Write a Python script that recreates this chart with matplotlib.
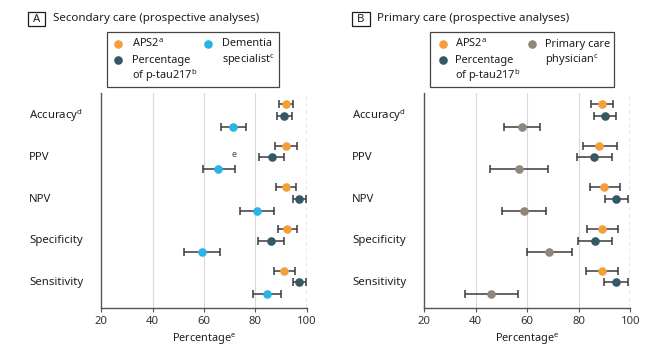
import matplotlib
matplotlib.use('Agg')
import matplotlib.pyplot as plt
from matplotlib.patches import Rectangle
from matplotlib.lines import Line2D
from matplotlib.transforms import blended_transform_factory
import numpy as np

FONT = 'Noto Sans'
plt.rcParams['font.family'] = [FONT, 'DejaVu Sans']
plt.rcParams['mathtext.fontset'] = 'custom'
plt.rcParams['mathtext.rm'] = FONT
plt.rcParams['mathtext.it'] = FONT
plt.rcParams['mathtext.default'] = 'regular'

# ---------------- data ----------------
metric_labels = ['Accuracy$^{d}$', 'PPV', 'NPV', 'Specificity', 'Sensitivity']
ticks = [20, 40, 60, 80, 100]

# Panel A: secondary care
a_aps2 = [91.8, 91.7, 91.8, 92.3, 91.1]
a_aps2_lo = [89.0, 87.7, 88.0, 88.6, 87.1]
a_aps2_hi = [94.7, 96.0, 95.7, 96.1, 95.3]
a_ptau = [91.2, 86.3, 96.9, 85.9, 97.0]
a_ptau_lo = [88.2, 81.5, 94.4, 80.8, 94.4]
a_ptau_hi = [94.2, 91.2, 99.6, 90.9, 99.6]
a_clin = [71.4, 65.6, 80.7, 59.2, 84.6]
a_clin_lo = [66.7, 59.5, 74.0, 52.2, 79.2]
a_clin_hi = [76.2, 72.0, 87.3, 66.3, 90.0]

# Panel B: primary care
b_aps2 = [89.0, 88.0, 89.9, 89.0, 88.9]
b_aps2_lo = [84.7, 81.5, 84.3, 83.0, 82.7]
b_aps2_hi = [93.3, 94.7, 95.9, 95.1, 95.3]
b_ptau = [90.2, 85.9, 94.4, 86.1, 94.3]
b_ptau_lo = [86.0, 79.2, 90.2, 79.5, 89.9]
b_ptau_hi = [94.3, 92.8, 99.0, 93.0, 99.0]
b_clin = [57.9, 56.6, 58.6, 68.4, 46.0]
b_clin_lo = [51.1, 45.4, 50.0, 59.7, 35.8]
b_clin_hi = [64.8, 68.0, 67.4, 77.2, 56.5]

C_APS2 = '#F4A03A'
C_PTAU = '#355866'
C_SPEC = '#2BB3E6'
C_PCP = '#8F877C'
C_ERR = '#3a3a3a'
C_TXT = '#1e1e1e'

W, H = 669, 362
fig = plt.figure(figsize=(W / 100, H / 100), dpi=100)


def fx(px):
    return px / W


def fy(py):
    return 1 - py / H


FS = 8.2
FS_LEG = 7.9
FS_TITLE = 8.3
OFF = 0.283


def panel(ax_left, label_x, letter_box, title_x, letter, title, series, legend_box, entries):
    ax = fig.add_axes([fx(ax_left), fy(308), 206 / W, (308 - 93) / H])
    ax.set_xlim(20, 100)
    ax.set_ylim(4.617, -0.545)
    for g in [40, 60, 80]:
        ax.axvline(g, color='#d9d9d9', lw=0.8, zorder=0)
    ax.axvline(100, color='#8a8a8a', lw=1.0, ls=(0, (3, 2)), zorder=0)
    for spine in ['top', 'right']:
        ax.spines[spine].set_visible(False)
    for spine in ['left', 'bottom']:
        ax.spines[spine].set_color('#555555')
        ax.spines[spine].set_linewidth(1.0)
    ax.set_yticks([])
    ax.set_xticks(ticks)
    ax.set_xticklabels([str(t) for t in ticks], fontsize=FS, color='#333333')
    ax.tick_params(axis='x', direction='out', length=3, width=0.8,
                   color='#555555', pad=2.5)
    y = np.arange(len(metric_labels))
    for (vals, lo, hi, col, dy) in series:
        vals = np.array(vals)
        err = [vals - np.array(lo), np.array(hi) - vals]
        ax.errorbar(vals, y + dy, xerr=err, fmt='o', color=col, ms=6.2,
                    mec='none', ecolor=C_ERR, elinewidth=1.1, capsize=2.6,
                    capthick=1.1, clip_on=False, zorder=3)
    tr = blended_transform_factory(fig.transFigure, ax.transData)
    for i, lab in enumerate(metric_labels):
        fig.text(fx(label_x), i, lab, transform=tr, ha='left', va='center',
                 fontsize=FS, color=C_TXT)
    fig.text(fx(ax_left + 103), fy(339.5), 'Percentage$^{e}$', ha='center',
             va='center', fontsize=FS_LEG, color=C_TXT)
    bx0, bx1 = letter_box
    fig.patches.append(Rectangle((fx(bx0), fy(26)), (bx1 - bx0) / W, 14 / H,
                                 transform=fig.transFigure, fill=False,
                                 ec=C_TXT, lw=0.9))
    fig.text(fx((bx0 + bx1) / 2), fy(19), letter, ha='center', va='center',
             fontsize=FS, weight='bold', color=C_TXT)
    fig.text(fx(title_x), fy(19), title, ha='left', va='center',
             fontsize=FS_TITLE, color=C_TXT)
    lx0, lx1 = legend_box
    fig.patches.append(Rectangle((fx(lx0), fy(87)), (lx1 - lx0) / W, 55 / H,
                                 transform=fig.transFigure, fc='white',
                                 ec='#444444', lw=0.9))
    for (mx, tx, yy, col, txt) in entries:
        if mx is not None:
            fig.lines.append(Line2D([fx(mx)], [fy(yy)], transform=fig.transFigure,
                                    marker='o', ms=6.2, color=col, mec='none'))
        fig.text(fx(tx), fy(yy), txt, ha='left', va='center',
                 fontsize=FS_LEG, color=C_TXT)
    return ax


axA = panel(101, 29, (28, 45), 53, 'A', 'Secondary care (prospective analyses)',
            [(a_aps2, a_aps2_lo, a_aps2_hi, C_APS2, -OFF),
             (a_ptau, a_ptau_lo, a_ptau_hi, C_PTAU, 0),
             (a_clin, a_clin_lo, a_clin_hi, C_SPEC, OFF)],
            (107, 279),
            [(118, 132, 44, C_APS2, 'APS2$^{a}$'),
             (118, 132, 60, C_PTAU, 'Percentage'),
             (None, 132, 76, None, 'of p-tau217$^{b}$'),
             (208, 222, 44, C_SPEC, 'Dementia'),
             (None, 222, 60, None, 'specialist$^{c}$')])
axA.text(71.5, 0.93, 'e', ha='center', va='center', fontsize=6.5, color='#444444')

axB = panel(424.3, 352, (352, 370), 377, 'B', 'Primary care (prospective analyses)',
            [(b_aps2, b_aps2_lo, b_aps2_hi, C_APS2, -OFF),
             (b_ptau, b_ptau_lo, b_ptau_hi, C_PTAU, 0),
             (b_clin, b_clin_lo, b_clin_hi, C_PCP, OFF)],
            (430, 614),
            [(442.7, 455, 44, C_APS2, 'APS2$^{a}$'),
             (442.7, 455, 60, C_PTAU, 'Percentage'),
             (None, 455, 76, None, 'of p-tau217$^{b}$'),
             (531.7, 545, 44, C_PCP, 'Primary care'),
             (None, 545, 60, None, 'physician$^{c}$')])

fig.savefig('out.png', dpi=100)
